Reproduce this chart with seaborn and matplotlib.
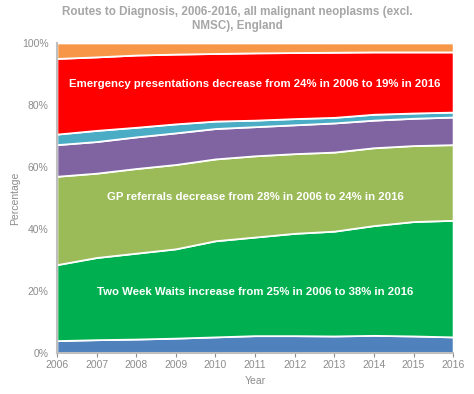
import pandas as pd
import matplotlib
matplotlib.use("Agg")
import matplotlib.pyplot as plt
import seaborn as sns

# Datos (porcentaje de cada ruta por año)
years = [2006, 2007, 2008, 2009, 2010, 2011, 2012, 2013, 2014, 2015, 2016]
screening = [4.0, 4.3, 4.5, 4.8, 5.2, 5.6, 5.6, 5.5, 5.7, 5.5, 5.2]
two_week_wait = [24.5, 26.5, 27.7, 28.8, 31.0, 31.8, 33.0, 33.8, 35.4, 36.9, 37.6]
gp_referral = [28.5, 27.2, 27.3, 27.2, 26.4, 26.2, 25.7, 25.5, 25.1, 24.5, 24.4]
other_outpatient = [10.2, 10.2, 10.2, 10.2, 9.8, 9.4, 9.3, 9.4, 8.9, 8.8, 8.9]
inpatient_elective = [3.4, 3.6, 3.1, 2.9, 2.4, 2.1, 2.0, 1.8, 1.9, 1.7, 1.6]
emergency = [24.4, 23.7, 23.3, 22.5, 21.8, 21.7, 21.3, 21.0, 20.1, 19.7, 19.4]
unknown = [5.0, 4.5, 3.9, 3.6, 3.4, 3.2, 3.1, 3.0, 2.9, 2.9, 2.9]

colores = ["#4F81BD", "#00B050", "#9BBB59", "#8064A2", "#4BACC6", "#FF0000", "#F79646"]

df = pd.DataFrame({
    "Year": years,
    "Screening": screening,
    "Two Week Wait": two_week_wait,
    "GP referral": gp_referral,
    "Other outpatient": other_outpatient,
    "Inpatient elective": inpatient_elective,
    "Emergency presentation": emergency,
    "Unknown": unknown,
})
rutas = df.columns[1:]

sns.set_theme(style="white")
plt.rcParams["font.family"] = ["Liberation Sans", "DejaVu Sans"]

gris = "#8C8C8C"
fig = plt.figure(figsize=(4.74, 3.94), dpi=100)
ax = fig.add_axes([0.120, 0.104, 0.836, 0.787])

ax.stackplot(df["Year"], [df[r] for r in rutas], colors=colores,
             edgecolor="white", linewidth=1.3)

ax.set_xlim(2006, 2016)
ax.set_ylim(0, 100)
ax.set_xticks(years)
ax.set_yticks(range(0, 101, 20))
ax.set_yticklabels([f"{v}%" for v in range(0, 101, 20)])
ax.tick_params(axis="x", colors=gris, labelsize=7.5, length=3, width=0.8,
               direction="out", bottom=True, pad=2)
ax.tick_params(axis="y", colors=gris, labelsize=7.5, length=0, pad=6)
ax.set_xlabel("Year", color=gris, fontsize=7.5, labelpad=4)
ax.set_ylabel("Percentage", color=gris, fontsize=7.5, labelpad=1)

sns.despine(ax=ax)
for lado in ["left", "bottom"]:
    ax.spines[lado].set_color("#BFBFBF")
    ax.spines[lado].set_linewidth(1.5)

fig.text(0.5, 1 - 6 / 394,
         "Routes to Diagnosis, 2006-2016, all malignant neoplasms (excl.\nNMSC), England",
         color="#A6A6A6", fontsize=8.4, fontweight="bold", ha="center", va="top",
         linespacing=1.25)

estilo = dict(color="white", fontsize=8.2, fontweight="bold", ha="center", va="center")
ax.text(2011.0, 86.6, "Emergency presentations decrease from 24% in 2006 to 19% in 2016", **estilo)
ax.text(2011.0, 50.2, "GP referrals decrease from 28% in 2006 to 24% in 2016", **estilo)
ax.text(2011.0, 19.7, "Two Week Waits increase from 25% in 2006 to 38% in 2016", **estilo)

fig.savefig("out.png", dpi=100)
